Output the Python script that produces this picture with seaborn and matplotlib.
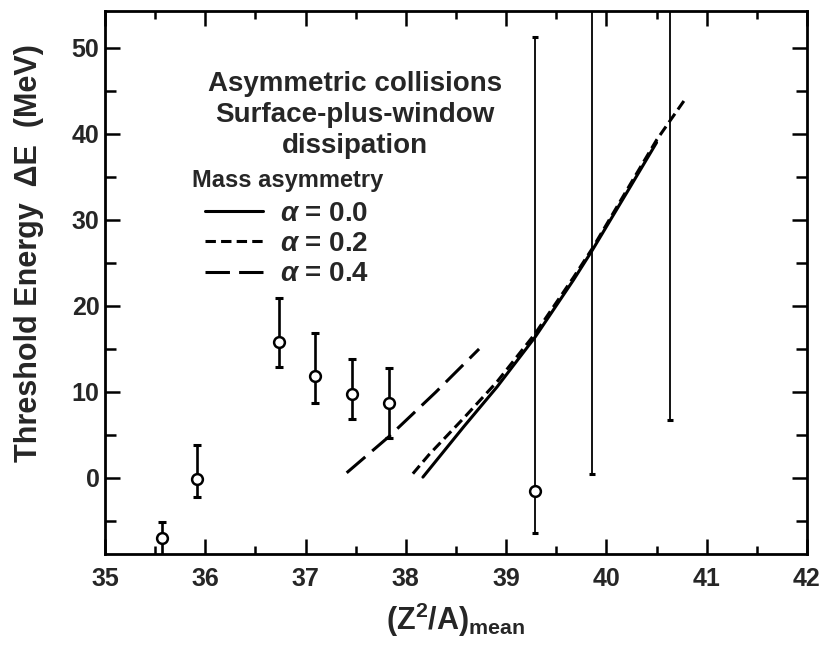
import numpy as np
import pandas as pd
import matplotlib
matplotlib.use('Agg')
import matplotlib.pyplot as plt
from matplotlib.lines import Line2D
from matplotlib.ticker import MultipleLocator
import seaborn as sns

sns.set_theme(style='ticks')
plt.rcParams['font.family'] = ['Liberation Sans', 'DejaVu Sans']
plt.rcParams['font.weight'] = 'bold'
plt.rcParams['axes.labelweight'] = 'bold'
plt.rcParams['mathtext.fontset'] = 'custom'
plt.rcParams['mathtext.rm'] = 'Liberation Sans:bold'
plt.rcParams['mathtext.it'] = 'Liberation Sans:bold:italic'

# measured points: (Z^2/A)_mean, threshold energy, error bar ends
pt_x = [35.565, 35.92, 36.735, 37.09, 37.46, 37.83, 39.29, 39.86, 40.63]
pt_y = [-7.0, -0.15, 15.85, 11.86, 9.77, 8.7, -1.47, np.nan, np.nan]
err_lo = [-10.0, -2.2, 12.9, 8.76, 6.8, 4.7, -6.4, 0.5, 6.7]
err_hi = [-5.1, 3.84, 20.9, 16.9, 13.8, 12.75, 51.3, 60.0, 60.0]

# calculated thresholds for three mass asymmetries
a00_x = [38.17, 38.58, 38.91, 39.29, 39.67, 39.86, 40.24, 40.5]
a00_y = [0.1, 6.0, 10.6, 16.4, 23.0, 26.5, 33.9, 39.0]
a02_x = [38.07, 38.23, 38.58, 38.91, 39.29, 39.67, 39.86, 40.24, 40.5, 40.8]
a02_y = [0.5, 2.7, 7.0, 11.2, 16.8, 23.3, 26.7, 34.2, 39.3, 44.3]
a04_x = [37.41, 37.83, 38.3, 38.73]
a04_y = [0.6, 4.8, 10.0, 15.0]
alpha_labels = ['α = 0.0', 'α = 0.2', 'α = 0.4']

curves = pd.concat([
    pd.DataFrame({'x': a00_x, 'y': a00_y, 'alpha': alpha_labels[0]}),
    pd.DataFrame({'x': a02_x, 'y': a02_y, 'alpha': alpha_labels[1]}),
    pd.DataFrame({'x': a04_x, 'y': a04_y, 'alpha': alpha_labels[2]}),
])
dash_map = {alpha_labels[0]: '', alpha_labels[1]: (3.4, 1.7), alpha_labels[2]: (8.0, 3.0)}

fig = plt.figure(figsize=(8.22, 6.47), dpi=100)
ax = fig.add_axes([105 / 822, 1 - 554 / 647, 702 / 822, 543 / 647])

sns.lineplot(data=curves, x='x', y='y', style='alpha', dashes=dash_map,
             color='black', linewidth=2.2, estimator=None, sort=False,
             legend=False, ax=ax)

# error bars: heavy ones on the left, thin long ones on the right
lo = np.array(err_lo)
hi = np.array(err_hi)
mid = (lo + hi) / 2
half = (hi - lo) / 2
ax.errorbar(pt_x[:6], mid[:6], yerr=half[:6], fmt='none', ecolor='black',
            elinewidth=1.9, capsize=3, capthick=2.2, zorder=3)
ax.errorbar(pt_x[6:], mid[6:], yerr=half[6:], fmt='none', ecolor='black',
            elinewidth=1.3, capsize=2, capthick=2.2, zorder=3)
sns.scatterplot(x=pt_x, y=pt_y, marker='o', s=60, color='white',
                edgecolor='black', linewidth=1.8, zorder=4, ax=ax)

ax.set_xlim(35, 42)
ax.set_ylim(-8.84, 54.3)
ax.xaxis.set_major_locator(MultipleLocator(1))
ax.xaxis.set_minor_locator(MultipleLocator(0.5))
ax.yaxis.set_major_locator(MultipleLocator(10))
ax.yaxis.set_minor_locator(MultipleLocator(5))
ax.set_yticks([0, 10, 20, 30, 40, 50])
ax.tick_params(which='both', direction='in', top=True, right=True,
               width=1.8, labelsize=18, color='black')
ax.tick_params(axis='x', which='major', length=11, pad=9)
ax.tick_params(axis='x', which='minor', length=6)
ax.tick_params(axis='y', which='major', length=11, pad=4)
ax.tick_params(axis='y', which='minor', length=8)
for sp in ax.spines.values():
    sp.set_linewidth(2.0)
    sp.set_color('black')

ax.set_xlabel(r'$\mathrm{(Z^2/A)_{mean}}$', fontsize=22, labelpad=7)
ax.set_ylabel('Threshold Energy  ΔE  (MeV)', fontsize=22)
ax.yaxis.set_label_coords(-0.087, 0.554)

ax.text(0.356, 0.808, 'Asymmetric collisions\nSurface-plus-window\ndissipation',
        transform=ax.transAxes, ha='center', va='center', fontsize=20,
        linespacing=1.25)
ax.text(0.124, 0.688, 'Mass asymmetry', transform=ax.transAxes,
        ha='left', va='center', fontsize=17)

handles = [Line2D([], [], color='black', lw=2.2, dashes=dash_map[k]) if dash_map[k]
           else Line2D([], [], color='black', lw=2.2) for k in alpha_labels]
labels = [r'$\alpha$ = 0.0', r'$\alpha$ = 0.2', r'$\alpha$ = 0.4']
ax.legend(handles, labels, loc='upper left', bbox_to_anchor=(0.1425, 0.65),
          frameon=False, fontsize=20, handlelength=2.1, handletextpad=0.6,
          labelspacing=0.15, borderpad=0, borderaxespad=0)

fig.savefig('out.png', dpi=100)
